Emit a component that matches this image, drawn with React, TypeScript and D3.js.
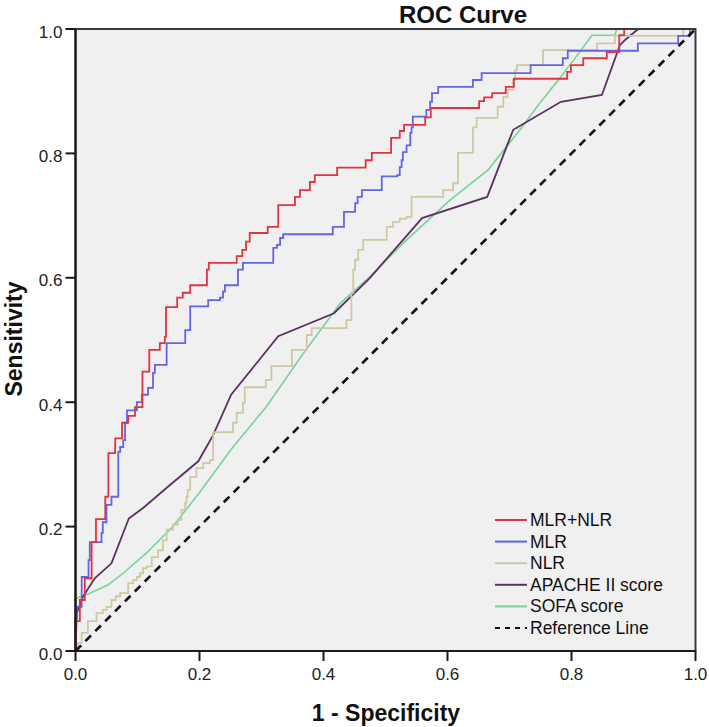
import React from "react";
import * as d3 from "d3";

// ---- data (1 - specificity, sensitivity) ----
const mlrNlr: [number, number][] = [
  [0, 0], [0, 0.048], [0.007, 0.082], [0.015, 0.117], [0.026, 0.175], [0.033, 0.212], [0.048, 0.248],
  [0.053, 0.318], [0.064, 0.342], [0.075, 0.367], [0.085, 0.378], [0.096, 0.392], [0.108, 0.449],
  [0.119, 0.484], [0.136, 0.495], [0.144, 0.505], [0.146, 0.553], [0.164, 0.568], [0.173, 0.576],
  [0.185, 0.588], [0.212, 0.613], [0.215, 0.624], [0.26, 0.635], [0.269, 0.645], [0.275, 0.658],
  [0.281, 0.672], [0.31, 0.682], [0.327, 0.717], [0.354, 0.73], [0.362, 0.741], [0.378, 0.754],
  [0.386, 0.765], [0.422, 0.777], [0.468, 0.789], [0.478, 0.801], [0.509, 0.825], [0.523, 0.836],
  [0.53, 0.846], [0.564, 0.858], [0.573, 0.873], [0.651, 0.884], [0.659, 0.89], [0.672, 0.897],
  [0.694, 0.907], [0.707, 0.92], [0.793, 0.931], [0.799, 0.942], [0.819, 0.953], [0.857, 0.963],
  [0.877, 0.99], [0.885, 1], [1, 1],
];

const mlr: [number, number][] = [
  [0, 0], [0, 0.053], [0.002, 0.071], [0.01, 0.119], [0.021, 0.146], [0.023, 0.175], [0.042, 0.19],
  [0.044, 0.207], [0.05, 0.235], [0.058, 0.248], [0.069, 0.32], [0.072, 0.328], [0.077, 0.339],
  [0.08, 0.367], [0.083, 0.387], [0.099, 0.4], [0.107, 0.412], [0.117, 0.423], [0.125, 0.447],
  [0.128, 0.46], [0.147, 0.495], [0.177, 0.516], [0.185, 0.554], [0.214, 0.564], [0.233, 0.568],
  [0.238, 0.578], [0.241, 0.588], [0.262, 0.613], [0.27, 0.624], [0.319, 0.648], [0.325, 0.653],
  [0.33, 0.664], [0.335, 0.67], [0.415, 0.682], [0.433, 0.706], [0.451, 0.72], [0.455, 0.73],
  [0.462, 0.741], [0.494, 0.763], [0.519, 0.765], [0.523, 0.778], [0.526, 0.789], [0.528, 0.802],
  [0.534, 0.813], [0.54, 0.833], [0.542, 0.842], [0.544, 0.859], [0.566, 0.87], [0.572, 0.883],
  [0.575, 0.897], [0.585, 0.907], [0.641, 0.918], [0.655, 0.929], [0.734, 0.942], [0.786, 0.953],
  [0.794, 0.965], [0.907, 0.977], [0.972, 0.989], [0.991, 1], [1, 1],
];

const nlr: [number, number][] = [
  [0, 0], [0.004, 0.013], [0.01, 0.029], [0.02, 0.048], [0.034, 0.061], [0.044, 0.066], [0.05, 0.071],
  [0.058, 0.082], [0.065, 0.088], [0.072, 0.093], [0.085, 0.109], [0.093, 0.114], [0.099, 0.119],
  [0.104, 0.125], [0.109, 0.133], [0.115, 0.136], [0.123, 0.151], [0.133, 0.162], [0.141, 0.178],
  [0.147, 0.195], [0.157, 0.203], [0.165, 0.211], [0.171, 0.227], [0.177, 0.238], [0.179, 0.248],
  [0.181, 0.259], [0.185, 0.28], [0.195, 0.294], [0.206, 0.302], [0.217, 0.307], [0.222, 0.352],
  [0.254, 0.367], [0.26, 0.383], [0.27, 0.399], [0.273, 0.424], [0.307, 0.436], [0.316, 0.458],
  [0.349, 0.484], [0.373, 0.508], [0.381, 0.519], [0.437, 0.532], [0.445, 0.576], [0.448, 0.613],
  [0.451, 0.629], [0.456, 0.645], [0.464, 0.661], [0.502, 0.682], [0.512, 0.69], [0.523, 0.695],
  [0.534, 0.698], [0.542, 0.73], [0.593, 0.741], [0.609, 0.752], [0.617, 0.801], [0.641, 0.842],
  [0.647, 0.857], [0.681, 0.875], [0.69, 0.891], [0.697, 0.902], [0.706, 0.918], [0.709, 0.934],
  [0.712, 0.942], [0.754, 0.966], [0.841, 0.977], [0.87, 0.989], [0.98, 1], [1, 1],
];

const apache: [number, number][] = [
  [0, 0], [0.002, 0.061], [0.012, 0.087], [0.031, 0.117], [0.058, 0.141], [0.086, 0.213],
  [0.109, 0.23], [0.149, 0.264], [0.198, 0.305], [0.222, 0.347], [0.251, 0.412], [0.327, 0.506],
  [0.417, 0.543], [0.475, 0.6], [0.559, 0.696], [0.664, 0.73], [0.706, 0.838], [0.783, 0.883],
  [0.849, 0.894], [0.878, 0.974], [0.886, 0.982], [0.905, 0.998], [0.91, 1], [1, 1],
];

const sofa: [number, number][] = [
  [0, 0], [0, 0.085], [0.002, 0.085], [0.023, 0.093], [0.052, 0.106], [0.077, 0.125], [0.115, 0.158],
  [0.157, 0.2], [0.201, 0.256], [0.254, 0.328], [0.308, 0.393], [0.365, 0.475], [0.427, 0.559],
  [0.475, 0.602], [0.534, 0.661], [0.604, 0.725], [0.665, 0.773], [0.717, 0.838], [0.749, 0.881],
  [0.781, 0.921], [0.814, 0.964], [0.833, 0.99], [0.87, 0.99], [0.873, 1], [1, 1],
];

const referenceLine: [number, number][] = [[0, 0], [1, 1]];

const seriesNames = ["MLR+NLR", "MLR", "NLR", "APACHE II score", "SOFA score", "Reference Line"];
const seriesColors = ["#e0343e", "#6464e6", "#d0c8a2", "#5e2f62", "#74d49a", "#111111"];
const ticks = [0, 0.2, 0.4, 0.6, 0.8, 1.0];
const tickLabels = ["0.0", "0.2", "0.4", "0.6", "0.8", "1.0"];

const W = 709;
const H = 727;
const PL = 75.5;
const PT = 29;
const PW = 620;
const PH = 622;
const FONT = "'Liberation Sans', Arial, Helvetica, sans-serif";

export default function App() {
  const x = d3.scaleLinear().domain([0, 1]).range([PL, PL + PW]);
  const y = d3.scaleLinear().domain([0, 1]).range([PT + PH, PT]);

  const stepLine = d3
    .line<[number, number]>()
    .x((d) => x(d[0]))
    .y((d) => y(d[1]))
    .curve(d3.curveStepAfter);
  const polyLine = d3
    .line<[number, number]>()
    .x((d) => x(d[0]))
    .y((d) => y(d[1]));

  const curves = [
    { d: polyLine(sofa), c: seriesColors[4], w: 1.6 },
    { d: polyLine(apache), c: seriesColors[3], w: 1.8 },
    { d: stepLine(nlr), c: seriesColors[2], w: 1.8 },
    { d: stepLine(mlr), c: seriesColors[1], w: 1.8 },
    { d: stepLine(mlrNlr), c: seriesColors[0], w: 1.8 },
  ];

  const legendX0 = 495;
  const legendX1 = 527;
  const legendY0 = 520;
  const legendDy = 21.6;

  return (
    <svg
      width={W}
      height={H}
      style={{ position: "absolute", left: 0, top: 0, background: "#ffffff" }}
      fontFamily={FONT}
    >
      <rect x={0} y={0} width={W} height={H} fill="#ffffff" />
      <rect x={PL} y={PT} width={PW} height={PH} fill="#f0f0f0" />

      {curves.map((cv, i) => (
        <path key={i} d={cv.d || ""} fill="none" stroke={cv.c} strokeWidth={cv.w} strokeLinejoin="miter" />
      ))}

      <path
        d={polyLine(referenceLine) || ""}
        fill="none"
        stroke={seriesColors[5]}
        strokeWidth={2.6}
        strokeDasharray="8,6"
      />

      {/* frame */}
      <rect x={PL} y={PT} width={PW} height={PH} fill="none" stroke="#3a3a3a" strokeWidth={2} />
      <line x1={PL} y1={PT} x2={PL} y2={PT + PH} stroke="#1a1a1a" strokeWidth={2.2} />
      <line x1={PL} y1={PT + PH} x2={PL + PW} y2={PT + PH} stroke="#1a1a1a" strokeWidth={2.2} />

      {/* y ticks */}
      {ticks.map((t, i) => (
        <g key={"y" + i}>
          <line x1={PL - 10} x2={PL} y1={y(t)} y2={y(t)} stroke="#1a1a1a" strokeWidth={2} />
          <text x={PL - 13} y={y(t) + 8.5} textAnchor="end" fontSize={17} fill="#222">
            {tickLabels[i]}
          </text>
        </g>
      ))}

      {/* x ticks */}
      {ticks.map((t, i) => (
        <g key={"x" + i}>
          <line x1={x(t)} x2={x(t)} y1={PT + PH} y2={PT + PH + 10} stroke="#1a1a1a" strokeWidth={2} />
          <text x={x(t)} y={680} textAnchor="middle" fontSize={17} fill="#222">
            {tickLabels[i]}
          </text>
        </g>
      ))}

      {/* titles */}
      <text x={463} y={22.5} textAnchor="middle" fontSize={24} fontWeight="bold" fill="#111">
        ROC Curve
      </text>
      <text x={386} y={721} textAnchor="middle" fontSize={23} fontWeight="bold" fill="#111">
        1 - Specificity
      </text>
      <text
        transform={`translate(21.5, 339) rotate(-90)`}
        textAnchor="middle"
        fontSize={23}
        fontWeight="bold"
        fill="#111"
      >
        Sensitivity
      </text>

      {/* legend */}
      {seriesNames.map((name, i) => {
        const ly = legendY0 + i * legendDy;
        const isRef = i === 5;
        return (
          <g key={"lg" + i}>
            <line
              x1={legendX0}
              x2={legendX1}
              y1={ly}
              y2={ly}
              stroke={seriesColors[i]}
              strokeWidth={isRef ? 1.8 : 2}
              strokeDasharray={isRef ? "5,5" : undefined}
            />
            <text x={legendX1 + 3} y={ly + 6} fontSize={17.5} fill="#111">
              {name}
            </text>
          </g>
        );
      })}
    </svg>
  );
}
